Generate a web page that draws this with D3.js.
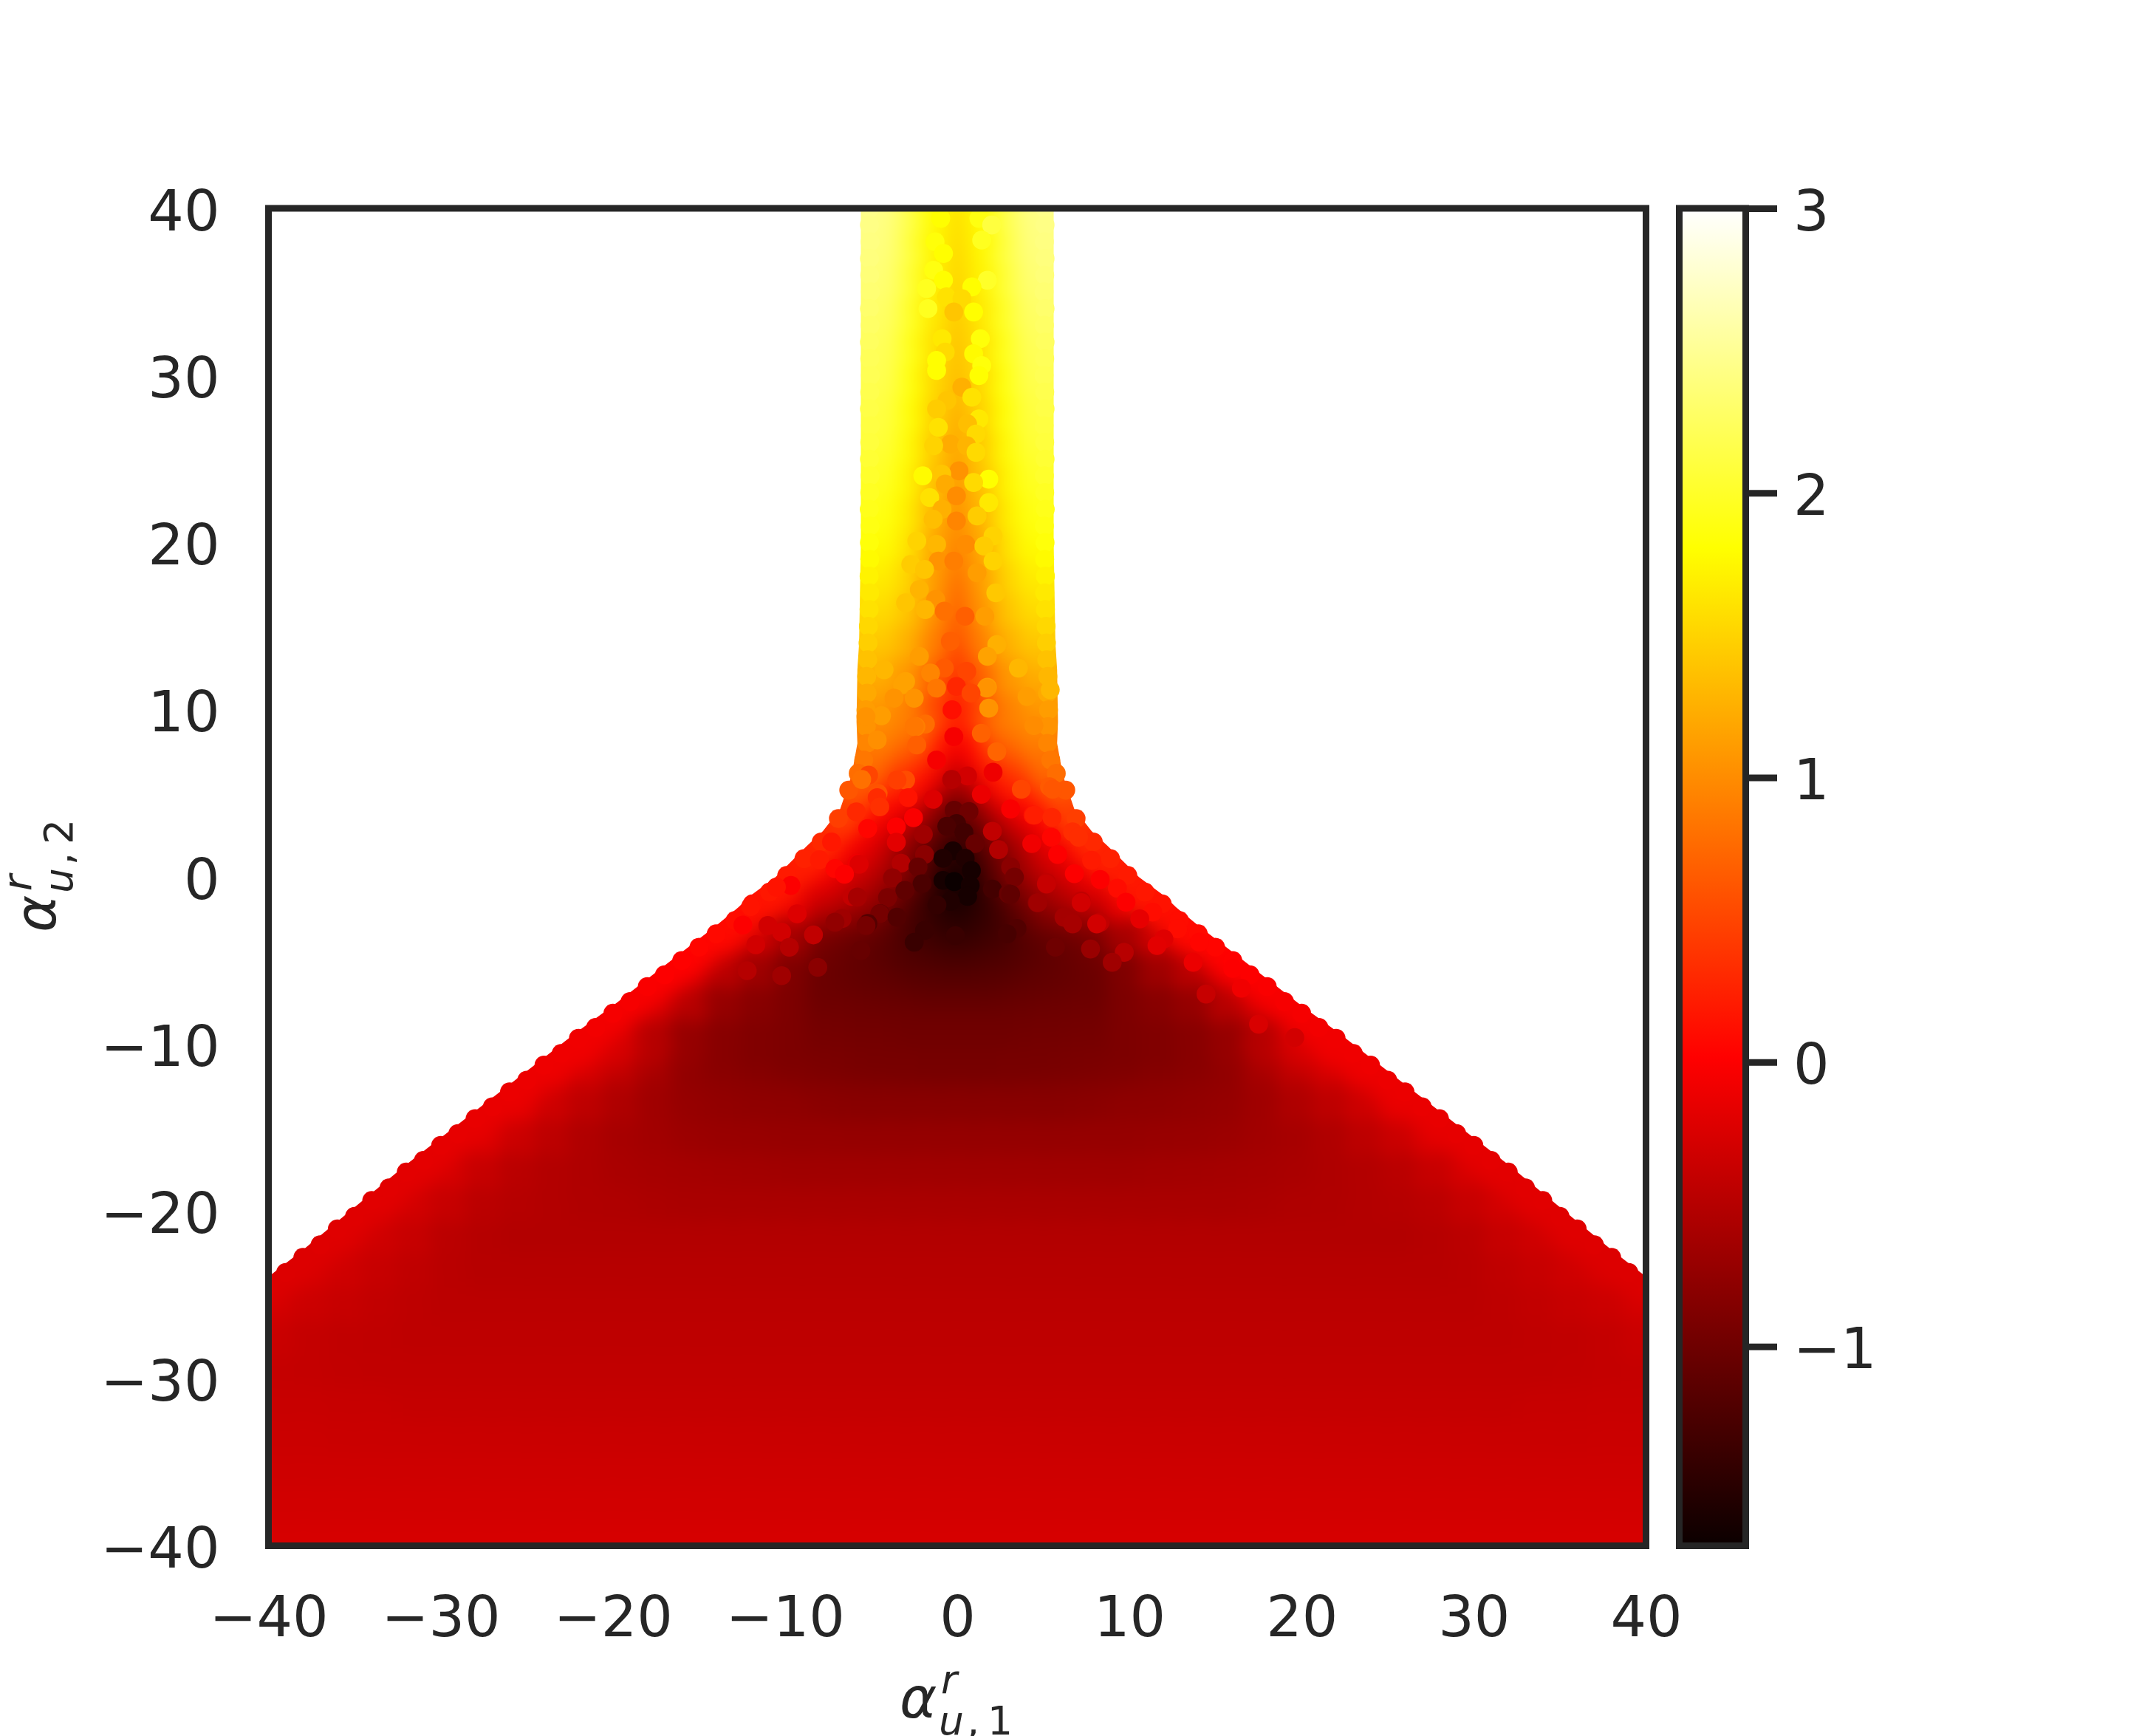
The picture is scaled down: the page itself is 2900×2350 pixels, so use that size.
<!DOCTYPE html>
<html>
<head>
<meta charset="utf-8">
<script src="https://d3js.org/d3.v7.min.js"></script>
<style>
body { margin: 0; background: #fff; }
text { font-family: "DejaVu Sans"; fill: #262626; }
</style>
</head>
<body>
<svg id="chart" width="2900" height="2350"></svg>
<script>
// tick labels
var xTicks = [-40, -30, -20, -10, 0, 10, 20, 30, 40];
var yTicks = [-40, -30, -20, -10, 0, 10, 20, 30, 40];
var cbTicks = [-1, 0, 1, 2, 3];

// colour range and the stops of the "hot" map
var cbDomain = [-1.7, 3];
var hotStops = [0, 0.365079, 0.746032, 1];
var hotColors = ["#0b0000", "#ff0000", "#ffff00", "#ffffff"];

// values, rows by y, columns by |x| (picture is close to mirror symmetric)
var stemY = [40, 38, 36, 34, 32, 30, 28, 26, 24, 22, 20, 18, 16, 14, 12, 10];
var stemX = [0, 1, 2, 3, 4, 5, 6];
var stemRows = [
  [1.60, 1.80, 2.10, 2.30, 2.40, 2.45, 2.45],
  [1.56, 1.76, 2.06, 2.26, 2.36, 2.41, 2.41],
  [1.52, 1.72, 2.02, 2.22, 2.32, 2.37, 2.37],
  [1.46, 1.66, 1.96, 2.16, 2.26, 2.31, 2.31],
  [1.40, 1.60, 1.90, 2.10, 2.20, 2.25, 2.25],
  [1.35, 1.55, 1.85, 2.05, 2.15, 2.20, 2.20],
  [1.28, 1.50, 1.79, 1.99, 2.09, 2.14, 2.14],
  [1.20, 1.44, 1.74, 1.94, 2.04, 2.09, 2.09],
  [1.12, 1.38, 1.68, 1.86, 1.96, 2.01, 2.01],
  [1.04, 1.30, 1.62, 1.78, 1.87, 1.93, 1.93],
  [0.95, 1.20, 1.55, 1.70, 1.78, 1.85, 1.85],
  [0.85, 1.12, 1.45, 1.58, 1.65, 1.72, 1.72],
  [0.72, 1.04, 1.35, 1.46, 1.52, 1.60, 1.60],
  [0.60, 0.90, 1.22, 1.32, 1.38, 1.47, 1.47],
  [0.38, 0.68, 1.05, 1.12, 1.20, 1.30, 1.30],
  [0.20, 0.52, 0.88, 0.98, 1.05, 1.12, 1.12]
];
// centre line of the stem between the rows above
var midY = [39, 37, 35, 33, 31, 29, 27, 25, 23, 21, 19, 17, 15, 13, 11];
var midV = [1.58, 1.54, 1.50, 1.43, 1.38, 1.32, 1.24, 1.16, 1.08, 1.00, 0.90, 0.78, 0.66, 0.48, 0.28];

var coreY = [9, 8, 7, 6, 5, 4, 3, 2, 1, 0, -1, -2, -3, -4, -5, -6, -7, -8, -9, -10, -11];
var coreX = [0, 1, 2, 3, 4, 5, 6, 7, 8];
var coreRows = [
  [0.10, 0.45, 0.78, 0.90, 0.95, 1.00, 1.05],
  [0.00, 0.15, 0.60, 0.78, 0.85, 0.95, 1.00],
  [-0.20, 0.05, 0.40, 0.60, 0.70, 0.82, 0.90],
  [-0.50, -0.15, 0.15, 0.35, 0.48, 0.62, 0.72, 0.80],
  [-0.80, -0.45, -0.05, 0.20, 0.32, 0.45, 0.55, 0.60],
  [-1.05, -0.85, -0.45, -0.08, 0.05, 0.25, 0.35, 0.40],
  [-1.20, -1.05, -0.75, -0.40, -0.15, 0.03, 0.18, 0.28, 0.32],
  [-1.40, -1.25, -0.95, -0.68, -0.42, -0.15, -0.02, 0.08, 0.15],
  [-1.55, -1.40, -1.10, -0.85, -0.58, -0.30, -0.15, 0.00, 0.10],
  [-1.68, -1.52, -1.20, -0.90, -0.68, -0.45, -0.30, -0.15, 0.02],
  [-1.65, -1.55, -1.32, -1.05, -0.85, -0.62, -0.48, -0.33, -0.20],
  [-1.60, -1.52, -1.40, -1.20, -1.00, -0.78, -0.65, -0.52, -0.40],
  [-1.50, -1.45, -1.38, -1.28, -1.12, -0.95, -0.88, -0.78, -0.70],
  [-1.40, -1.38, -1.33, -1.28, -1.18, -1.10, -1.05, -1.00, -0.92],
  [-1.30, -1.28, -1.25, -1.22, -1.18, -1.12, -1.08, -1.04, -0.98],
  [-1.20, -1.20, -1.18, -1.17, -1.13, -1.10, -1.08, -1.05, -1.02],
  [-1.12, -1.12, -1.12, -1.10, -1.08, -1.07, -1.05, -1.03, -1.02],
  [-1.05, -1.05, -1.05, -1.04, -1.03, -1.02, -1.01, -1.00, -1.00],
  [-1.00, -1.00, -1.00, -1.00, -0.99, -0.98, -0.98, -0.97, -0.96],
  [-0.98, -0.98, -0.98, -0.98, -0.97, -0.96, -0.96, -0.95, -0.95],
  [-0.95, -0.95, -0.95, -0.94, -0.94, -0.94, -0.93, -0.92, -0.91]
];

var wingY = [2, 0, -2, -4, -6, -8, -10];
var wingX = [8, 10, 12, 14, 16, 18, 20, 22];
var wingRows = [
  [0.15],
  [0.02, 0.15, 0.18],
  [-0.40, -0.12, 0.10],
  [-0.92, -0.60, -0.33, -0.05, 0.02],
  [-1.02, -0.88, -0.66, -0.46, -0.25, -0.05],
  [-1.00, -0.90, -0.82, -0.72, -0.48, -0.30, -0.08],
  [-0.95, -0.90, -0.87, -0.82, -0.72, -0.50, -0.28, -0.12]
];

var lowY = [-12, -14, -16, -18, -20, -22, -24, -26, -28, -30, -32, -34, -36, -38, -40];
var lowX = [0, 2, 4, 6, 8, 10, 12, 14, 16, 18, 20, 22, 24, 26, 28, 30, 32, 34, 36, 38, 40];
var lowRows = [
  [-0.92, -0.92, -0.91, -0.90, -0.88, -0.86, -0.83, -0.80, -0.76, -0.62, -0.45, -0.30, -0.15, -0.14],
  [-0.82, -0.82, -0.82, -0.82, -0.81, -0.78, -0.77, -0.75, -0.72, -0.65, -0.55, -0.44, -0.33, -0.17, -0.12],
  [-0.73, -0.73, -0.73, -0.73, -0.72, -0.72, -0.71, -0.70, -0.68, -0.64, -0.60, -0.54, -0.45, -0.35, -0.22, -0.15],
  [-0.65, -0.65, -0.65, -0.65, -0.65, -0.65, -0.64, -0.63, -0.62, -0.60, -0.58, -0.55, -0.52, -0.47, -0.38, -0.28, -0.20],
  [-0.58, -0.58, -0.58, -0.58, -0.58, -0.58, -0.58, -0.58, -0.58, -0.57, -0.55, -0.54, -0.52, -0.50, -0.46, -0.38, -0.30, -0.24, -0.20],
  [-0.52, -0.52, -0.52, -0.52, -0.52, -0.52, -0.52, -0.52, -0.52, -0.52, -0.52, -0.52, -0.52, -0.52, -0.50, -0.46, -0.38, -0.32, -0.26, -0.22],
  [-0.49, -0.49, -0.49, -0.49, -0.49, -0.49, -0.49, -0.49, -0.49, -0.49, -0.49, -0.49, -0.49, -0.49, -0.49, -0.47, -0.43, -0.38, -0.32, -0.27, -0.23],
  [-0.46, -0.46, -0.46, -0.46, -0.46, -0.46, -0.46, -0.46, -0.46, -0.46, -0.46, -0.46, -0.46, -0.46, -0.46, -0.46, -0.44, -0.41, -0.38, -0.34, -0.30],
  [-0.44, -0.44, -0.44, -0.44, -0.44, -0.44, -0.44, -0.44, -0.44, -0.44, -0.44, -0.44, -0.44, -0.44, -0.44, -0.44, -0.44, -0.43, -0.42, -0.40, -0.36],
  [-0.42, -0.42, -0.42, -0.42, -0.42, -0.42, -0.42, -0.42, -0.42, -0.42, -0.42, -0.42, -0.42, -0.42, -0.42, -0.42, -0.42, -0.42, -0.41, -0.40, -0.39],
  [-0.39, -0.39, -0.39, -0.39, -0.39, -0.39, -0.39, -0.39, -0.39, -0.39, -0.39, -0.39, -0.39, -0.39, -0.39, -0.39, -0.39, -0.38, -0.38, -0.37, -0.37],
  [-0.36, -0.36, -0.36, -0.36, -0.36, -0.36, -0.36, -0.36, -0.36, -0.36, -0.36, -0.36, -0.36, -0.36, -0.36, -0.36, -0.36, -0.36, -0.36, -0.35, -0.35],
  [-0.33, -0.33, -0.33, -0.33, -0.33, -0.33, -0.33, -0.33, -0.33, -0.33, -0.33, -0.33, -0.33, -0.33, -0.33, -0.33, -0.33, -0.33, -0.33, -0.33, -0.33],
  [-0.30, -0.30, -0.30, -0.30, -0.30, -0.30, -0.30, -0.30, -0.30, -0.30, -0.30, -0.30, -0.30, -0.30, -0.30, -0.30, -0.30, -0.30, -0.30, -0.30, -0.30],
  [-0.27, -0.27, -0.27, -0.27, -0.27, -0.27, -0.27, -0.27, -0.27, -0.27, -0.27, -0.27, -0.27, -0.27, -0.27, -0.27, -0.27, -0.27, -0.27, -0.27, -0.27]
];

// single dots that stand out, mostly near the centre line: [x, y, value]
var speckDots = [
  [-0.96,39.4,1.8],[-1.29,38,1.85],[1.26,39.4,1.88],[2,39,2.1],[1.42,38.1,1.95],[-0.8,37.3,1.8],[-1.37,36.3,1.88],[-0.8,35.7,1.8],[1.75,35.7,2],[0.85,35.3,1.8],[-1.78,35.2,1.95],[-0.63,34.7,1.6],[0.27,34.6,1.55],[-1.7,34,1.95],[0.95,33.8,1.8],[-0.2,33.8,1.4],
  [1.34,32.2,1.85],[-0.88,32.2,1.65],[-0.7,31.4,1.55],[0.95,31.3,1.78],[-1.2,30.9,1.8],[1.42,30.6,1.85],[-1.2,30.3,1.8],[1.26,30,1.8],[0.27,29.3,1.25],[0.85,28.7,1.6],[-0.6,28.5,1.4],[-1.2,28,1.45],[1.26,27.4,1.65],[0.6,27.1,1.35],[-1.1,26.9,1.6],[1.09,26.5,1.55],[-0.4,25.9,1.22],[-1.37,25.8,1.5],[0.55,25.8,1.28],[1.09,25.4,1.55],
  [0.1,24.3,1.05],[-0.9,24.1,1.4],[-2,24,1.78],[1.83,23.8,1.8],[0.95,23.6,1.55],[-0.7,23.5,1.22],[-0.05,22.8,1],[-1.6,22.7,1.6],[1.83,22.4,1.65],[-0.88,22,1.25],[1.15,21.6,1.45],[-1.4,21.4,1.35],[-0.05,21.3,0.95],[2.08,20.4,1.5],[-2.35,20.1,1.5],[0.5,19.9,1],[-1.2,19.9,1.3],[1.55,19.8,1.45],
  [-1.1,18.9,1.05],[-0.2,18.9,0.9],[2.08,18.9,1.5],[-2.7,18.7,1.45],[-1.9,18.4,1.4],[1.15,18.2,1.12],[-2.2,17.2,1.28],[2.24,17,1.42],[-1.25,16.6,1.05],[-3,16.4,1.4],[-1.86,16,1.3],[-0.75,15.9,0.8],[0.45,15.6,0.68],[1.6,15.6,1.12],[-0.4,14.1,0.68],[2.3,13.9,1.25],[-2.2,13.2,1.12],[1.75,13.2,1.15],
  [-0.75,12.5,0.65],[3.55,12.5,1.3],[-4.25,12.4,1.3],[0.55,12.3,0.5],[-1.55,12.2,0.95],[-3,11.7,1.15],[-3.18,11.5,1.15],[-0.05,11.4,0.28],[1.75,11.35,1.1],[-1.2,11.3,0.85],[1.7,11.3,1.05],[5.4,11.2,1.3],[0.8,11,0.5],[4.05,10.8,1.12],[-2.5,10.7,1.05],[-3.67,10.7,1.05],[1.83,10.1,1.05],[-0.3,10,0.12],[-4.4,9.65,1.12],[-5.3,9.6,1.05],
  [-1.85,9.15,0.78],[4.45,9.06,1],[-2.4,9,0.9],[-2.5,9,0.85],[1.4,8.6,0.7],[-0.2,8.4,-0.05],[-4.65,8.2,1.02],[-2.35,7.9,0.68],[2.3,7.5,0.72],[-1.2,7,-0.05],[2.08,6.27,-0.1],[-5.15,6.1,0.5],[0.6,6.05,-0.3],[-0.32,5.84,-0.5],[-5.55,5.84,0.8],[-3,5.8,0.55],[-3.5,5.8,0.45],[5.36,5.4,0.65],[5.54,5.25,0.62],[3.72,5.25,0.5],
  [-4.6,5,0.6],[1.4,4.95,-0.12],[-2.85,4.75,0.15],[-4.65,4.75,0.32],[-1.4,4.65,-0.22],[-4.5,4.2,0.35],[3.1,4.07,-0.02],[-0.18,4,-1.05],[0.68,3.92,-1],[-5.86,3.9,0.3],[4.4,3.7,0.15],[4.47,3.7,0.22],[5.5,3.56,0.28],[-2.54,3.55,-0.02],[-0.04,3.2,-1.3],[-0.61,3.04,-1.25],[-3.54,3,0],[-5.2,2.9,0.05],[2.04,2.74,-0.42],[6.7,2.7,0.33],[0.39,2.67,-1.32],[-1.97,2.55,-0.65],[7.05,2.38,0.33],[5.47,2.38,0.05],[-7.3,2.1,0.18],
  [-3.54,2.08,-0.18],[1.03,2,-1.05],[4.33,2,-0.08],[2.4,1.64,-0.52],[-0.25,1.57,-1.6],[-1.9,1.35,-0.8],[5.83,1.35,0],[-0.83,1.12,-1.55],[0.46,1.12,-1.55],[-8,1.03,0.2],[7.8,1,0.2],[-3.26,0.83,-0.52],[-5.83,0.83,-0.1],[-5.7,0.77,-0.22],[-2.28,0.6,-1.05],[3.1,0.6,-0.8],[-7.1,0.5,0.05],[0.82,0.39,-1.62],[6.8,0.2,0],[-6.55,0.17,0],[3.32,0,-0.95],[-3.76,-0.05,-0.75],[8.3,-0.15,0],[-0.83,-0.2,-1.62],[-0.18,-0.27,-1.7],[5.2,-0.33,-0.42],[-2.04,-0.4,-1.25],[5.18,-0.42,-0.38],[0.75,-0.5,-1.62],[-9.66,-0.5,0],[-10.5,-0.6,0.15],[9.3,-0.67,0.1],[2.04,-0.72,-1.3],[-3.04,-0.8,-1.1],
  [2.97,-1,-1.05],[3.1,-1.03,-1.1],[0.6,-1.16,-1.62],[-6.12,-1.16,-0.4],[-5.8,-1.2,-0.6],[-4.05,-1.23,-0.9],[7.2,-1.43,-0.42],[-0.4,-1.45,-1.55],[9.8,-1.5,0],[4.64,-1.53,-0.75],[4.68,-1.53,-0.65],[7.2,-1.53,-0.3],[-1.18,-1.67,-1.42],[-12,-1.77,0.15],[11.35,-2.1,0.1],[-4.47,-2.19,-1.1],[-4.5,-2.2,-0.95],[-9.3,-2.2,-0.22],[-3.5,-2.4,-1.2],[6.2,-2.4,-0.62],[-6.69,-2.48,-0.65],[10.6,-2.5,-0.15],[6.6,-2.63,-0.62],[-7.1,-2.7,-0.75],[8.3,-2.7,-0.42],[-5.19,-2.78,-1.18],[6.7,-2.8,-0.6],[8.1,-2.8,-0.3],[-12.45,-2.87,0],[-11,-2.9,-0.3],[-5.3,-2.9,-0.95],[3.47,-3.07,-1.2],[12.8,-3.1,0.1],[-1.9,-3.2,-1.38],[-10.2,-3.3,-0.3],[2.9,-3.4,-1.28],[-8.35,-3.46,-0.42],[-0.11,-3.5,-1.38],[12,-3.7,-0.2],[14.06,-3.9,0.05],[-2.5,-3.9,-1.38],[-11.7,-4.05,-0.3],[11.6,-4.1,-0.18],[-9.75,-4.2,-0.5],[5.7,-4.2,-1],[7.74,-4.3,-0.7],[-5.6,-4.4,-1.05],[9.7,-4.5,-0.48],[13.7,-5.1,-0.12],[9,-5.1,-0.65],[-8.1,-5.4,-0.8],[16,-5.47,0],[-12.2,-5.6,-0.5],[-10.2,-5.9,-0.65],[16.5,-6.65,-0.08],[14.45,-7,-0.38],[17.5,-8.8,-0.25],[19.6,-9.6,-0.3]
];

// dots along the rim of the region, on both sides: [|x|, y, value]
var rimDots = [
  [5.08,40,2.45],[5.1,39,2.43],[5.06,38,2.41],[5.1,37,2.39],[5.08,36,2.37],[5.04,35,2.34],[5.1,34,2.31],[5.06,33,2.28],[5.1,32,2.25],[5.08,31,2.22],[5.04,30,2.2],[5.08,29,2.17],[5.1,28,2.14],[5.04,27,2.11],[5.08,26,2.09],[5.1,25,2.05],[5.06,24,2.01],[5.08,23,1.97],[5.11,22,1.93],[5.06,21,1.89],[5.1,20,1.85],[5.08,19,1.78],[5.12,18,1.72],[5.08,17,1.66],[5.12,16,1.6],[5.16,15,1.53],[5.18,14,1.47],[5.2,13,1.38],[5.26,12,1.3],[5.24,11,1.2],[5.3,10,1.12],[5.28,9,1.05],[5.24,8,0.95],[5.43,7,0.85],
  [5.75,6.2,0.78],[6.3,5.2,0.62],[6.9,3.5,0.45],[7.9,2.1,0.3],[8.9,1.1,0.25],[9.9,0.1,0.2],[10.9,-0.9,0.18],[11.9,-1.6,0.14],[12.9,-2.6,0.1],[14,-3.4,0.08],[15,-4.2,0.05],[16,-5,0.02],[17,-5.85,0],[18,-6.55,-0.02],[19,-7.45,-0.04],[20,-8.15,-0.05],[21,-9,-0.07],[22,-9.65,-0.08],[23,-10.55,-0.09],[24,-11.25,-0.1],[25,-12.15,-0.11],[26,-12.85,-0.12],[27,-13.75,-0.13],[28,-14.45,-0.14],[29,-15.35,-0.15],[30,-16.05,-0.16],[31,-16.95,-0.17],[32,-17.65,-0.18],[33,-18.6,-0.19],[34,-19.35,-0.19],[35,-20.3,-0.2],[36,-21.05,-0.2],[37,-22,-0.21],[38,-22.75,-0.22],[39,-23.65,-0.22],[40,-24.35,-0.23]
];

// outline of the soft fill, |x| and y, from the top of the stem down to the lower right corner
var edgeX = [5.6, 5.6, 5.7, 5.8, 5.85, 5.8, 6.13, 6.8, 7.8, 8.75, 10.55, 12.05, 12.7, 14, 16, 18, 20, 22, 24, 26, 28, 30, 32, 34, 36, 38, 40, 41, 41];
var edgeY = [41, 20, 14, 12.4, 9.3, 8, 6.1, 4.07, 2.75, 1.85, 0, -1.15, -1.8, -2.9, -4.5, -6.1, -7.7, -9.2, -10.8, -12.4, -14, -15.6, -17.2, -18.9, -20.6, -22.3, -23.9, -24.7, -41];

var left = 363.5, right = 2228.5, top_ = 282, bottom = 2092.5;
var cbLeft = 2273.5, cbRight = 2363.5;

var x = d3.scaleLinear().domain([-40, 40]).range([left, right]);
var y = d3.scaleLinear().domain([-40, 40]).range([bottom, top_]);
var cbY = d3.scaleLinear().domain(cbDomain).range([bottom, top_]);

var toValue = d3.scaleLinear().domain([0, 1]).range(cbDomain);
var color = d3.scaleLinear()
    .domain(hotStops.map(function(t){ return toValue(t); }))
    .range(hotColors)
    .clamp(true);

// one row table -> dots on both sides of x = 0
function table_points(rows, ys, xs, radius){
    var pts = [];
    rows.forEach(function(row, i){
        row.forEach(function(v, j){
            pts.push({x: xs[j], y: ys[i], v: v, r: radius});
            if (xs[j] !== 0) pts.push({x: -xs[j], y: ys[i], v: v, r: radius});
        });
    });
    return pts;
}

function rim_points(radius){
    var pts = [];
    rimDots.forEach(function(d){
        pts.push({x: d[0], y: d[1], v: d[2], r: radius});
        pts.push({x: -d[0], y: d[1], v: d[2], r: radius});
    });
    return pts;
}

function add_dots(parent, pts){
    parent.selectAll("circle")
        .data(pts)
        .enter().append("circle")
        .attr("cx", function(d){ return x(d.x); })
        .attr("cy", function(d){ return y(d.y); })
        .attr("r", function(d){ return x(d.r) - x(0); })
        .attr("fill", function(d){ return color(d.v); });
}

var svg = d3.select("#chart");
var defs = svg.append("defs");

// soft layer: blur, then push alpha back up so the edge of the region stays solid
var soft = defs.append("filter").attr("id", "soft")
    .attr("filterUnits", "userSpaceOnUse")
    .attr("x", 0).attr("y", 0).attr("width", 2900).attr("height", 2350)
    .attr("color-interpolation-filters", "sRGB");
soft.append("feGaussianBlur").attr("stdDeviation", 12);
soft.append("feComponentTransfer").append("feFuncA")
    .attr("type", "linear").attr("slope", 20);

var outline = edgeX.map(function(d, i){ return [x(-d), y(edgeY[i])]; })
    .concat(edgeX.map(function(d, i){ return [x(d), y(edgeY[i])]; }).reverse());
defs.append("clipPath").attr("id", "region")
    .append("polygon")
    .attr("points", outline.join(" "));
defs.append("clipPath").attr("id", "frame")
    .append("rect")
    .attr("x", left).attr("y", top_)
    .attr("width", right - left).attr("height", bottom - top_);

var lowPts = table_points(lowRows, lowY, lowX, 1.5);
var wingPts = table_points(wingRows, wingY, wingX, 1.5);
var stemPts = table_points(stemRows, stemY, stemX, 1.15)
    .sort(function(a, b){ return Math.abs(b.x) - Math.abs(a.x); });
stemPts.forEach(function(d){ if (d.x === 0) d.r = 0.7; });
var midPts = midV.map(function(d, i){ return {x: 0, y: midY[i], v: d, r: 0.7}; });
var corePts = table_points(coreRows, coreY, coreX, 0.78);
var speckPts = speckDots.map(function(d){ return {x: d[0], y: d[1], v: d[2], r: 0.55}; });

var plot = svg.append("g").attr("clip-path", "url(#frame)");
add_dots(plot.append("g").attr("clip-path", "url(#region)")
    .append("g").attr("filter", "url(#soft)"),
    lowPts.concat(wingPts, stemPts, midPts, corePts, rim_points(1.3)));
add_dots(plot.append("g").attr("class", "rim"), rim_points(0.55));
add_dots(plot.append("g").attr("class", "specks"), speckPts);

// frame and axes
svg.append("rect")
    .attr("x", left).attr("y", top_)
    .attr("width", right - left).attr("height", bottom - top_)
    .attr("fill", "none").attr("stroke", "#262626").attr("stroke-width", 9);

var fontSize = 76.4;

var xAxis = svg.append("g")
    .attr("transform", "translate(0," + bottom + ")")
    .call(d3.axisBottom(x).tickValues(xTicks).tickSize(0).tickPadding(68));
var yAxis = svg.append("g")
    .attr("transform", "translate(" + left + ",0)")
    .call(d3.axisLeft(y).tickValues(yTicks).tickSize(0).tickPadding(66));
[xAxis, yAxis].forEach(function(a){
    a.select(".domain").remove();
    a.selectAll(".tick line").remove();
    a.selectAll("text").attr("font-size", fontSize).attr("font-family", "DejaVu Sans").attr("fill", "#262626");
});
yAxis.selectAll("text").attr("dy", "0.38em");

// colour bar
var grad = defs.append("linearGradient").attr("id", "hot")
    .attr("x1", 0).attr("y1", 1).attr("x2", 0).attr("y2", 0);
grad.selectAll("stop").data(hotStops).enter().append("stop")
    .attr("offset", function(d){ return d; })
    .attr("stop-color", function(d, i){ return hotColors[i]; });
svg.append("rect")
    .attr("x", cbLeft).attr("y", top_)
    .attr("width", cbRight - cbLeft).attr("height", bottom - top_)
    .attr("fill", "url(#hot)").attr("stroke", "#262626").attr("stroke-width", 9);

var cbAxis = svg.append("g")
    .attr("transform", "translate(" + cbRight + ",0)")
    .call(d3.axisRight(cbY).tickValues(cbTicks).tickFormat(d3.format("d")).tickSize(42.5).tickPadding(22));
cbAxis.select(".domain").remove();
cbAxis.selectAll(".tick line").attr("stroke", "#262626").attr("stroke-width", 9);
cbAxis.selectAll("text").attr("font-size", fontSize).attr("font-family", "DejaVu Sans").attr("fill", "#262626").attr("dy", "0.38em");

// axis titles set the way mathtext places them
function math_label(g){
    var parts = [
        {t: "α", dx: 0, dy: 0, s: 76.4, it: true},
        {t: "r", dx: 56, dy: -33, s: 53.5, it: true},
        {t: "u", dx: 53, dy: 23, s: 53.5, it: true},
        {t: ",", dx: 91, dy: 23, s: 53.5, it: false},
        {t: g.datum(), dx: 119, dy: 23, s: 53.5, it: false}
    ];
    g.selectAll("text").data(parts).enter().append("text")
        .attr("x", function(d){ return d.dx; })
        .attr("y", function(d){ return d.dy; })
        .attr("font-size", function(d){ return d.s; })
        .attr("font-style", function(d){ return d.it ? "italic" : "normal"; })
        .text(function(d){ return d.t; });
}
svg.append("g").datum("1").attr("transform", "translate(1218,2325)").call(math_label);
svg.append("g").datum("2").attr("transform", "translate(75,1262) rotate(-90)").call(math_label);
</script>
</body>
</html>
